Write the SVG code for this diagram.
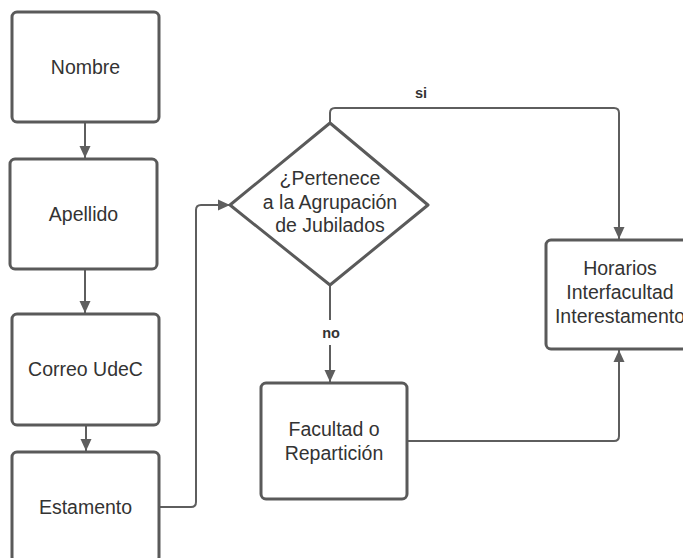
<svg xmlns="http://www.w3.org/2000/svg" width="683" height="558" viewBox="0 0 683 558">
<defs>
<marker id="ah" markerWidth="12" markerHeight="12" viewBox="0 0 12 12" refX="12" refY="6" orient="auto" markerUnits="userSpaceOnUse">
<path d="M0,0.5 L12,6 L0,11.5 Z" fill="#5e5e5e"/>
</marker>
<style>
.box{fill:#ffffff;stroke:#5a5a5a;stroke-width:3}
.t{font-family:"Liberation Sans",Arial,sans-serif;font-size:19.5px;fill:#333333;text-anchor:middle}
.c{fill:none;stroke:#5e5e5e;stroke-width:2;marker-end:url(#ah)}
.c0{fill:none;stroke:#5e5e5e;stroke-width:2}
.lbl{font-family:"Liberation Sans",Arial,sans-serif;font-size:14.5px;font-weight:bold;fill:#333333;text-anchor:middle}
</style>
</defs>
<rect width="683" height="558" fill="#ffffff"/>
<g id="connectors">
<path class="c" d="M85,122 V158"/>
<path class="c" d="M85,269 V313"/>
<path class="c" d="M86,425 V451"/>
<path class="c" d="M159,507 H191 Q196,507 196,502 V210 Q196,205 201,205 H230"/>
<path class="c" d="M330,123 V113 Q330,108 335,108 H614 Q619,108 619,113 V239"/>
<path class="c0" d="M330,285 V320"/>
<path class="c" d="M330,345 V382"/>
<path class="c" d="M407,441 H614 Q619,441 619,436 V350"/>
<text class="lbl" x="421" y="98">si</text>
<text class="lbl" x="331" y="338">no</text>
</g>
<g id="nombre">
<rect class="box" x="12" y="12" width="147" height="110" rx="5"/>
<text class="t" x="85.5" y="74">Nombre</text>
</g>
<g id="apellido">
<rect class="box" x="10" y="159" width="147" height="110" rx="5"/>
<text class="t" x="83.5" y="221">Apellido</text>
</g>
<g id="correo">
<rect class="box" x="12" y="314" width="147" height="111" rx="5"/>
<text class="t" x="85.5" y="376">Correo UdeC</text>
</g>
<g id="estamento">
<rect class="box" x="12" y="452" width="147" height="110" rx="5"/>
<text class="t" x="85.5" y="514">Estamento</text>
</g>
<g id="decision">
<path class="box" d="M330,123 L428,205 L330,285 L230,205 Z" stroke-linejoin="round"/>
<text class="t" x="330" y="185">¿Pertenece</text>
<text class="t" x="330" y="209">a la Agrupación</text>
<text class="t" x="330" y="232">de Jubilados</text>
</g>
<g id="facultad">
<rect class="box" x="261" y="383" width="146" height="116" rx="5"/>
<text class="t" x="334" y="436">Facultad o</text>
<text class="t" x="334" y="460">Repartición</text>
</g>
<g id="horarios">
<rect class="box" x="546" y="240" width="147" height="109" rx="5"/>
<text class="t" x="620" y="275">Horarios</text>
<text class="t" x="620" y="299">Interfacultad</text>
<text class="t" x="620" y="323">Interestamento</text>
</g>
</svg>
